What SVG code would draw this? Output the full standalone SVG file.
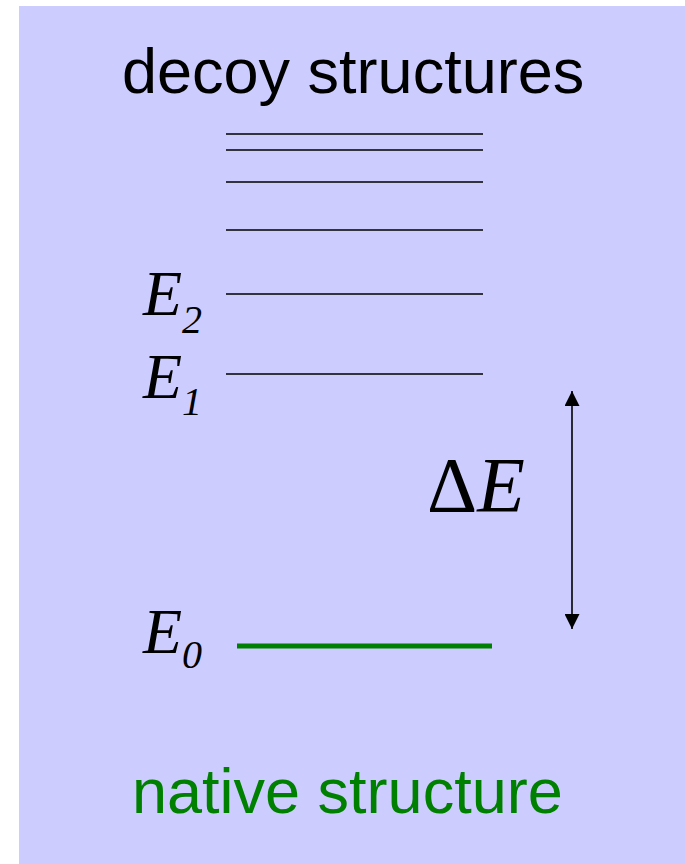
<svg xmlns="http://www.w3.org/2000/svg" width="685" height="864" viewBox="0 0 685 864">
<defs>
<style>
.lvl{stroke:#000;stroke-width:1.6;fill:none}
.lbl{font-family:"Liberation Serif",serif;font-style:italic;fill:#000}
.cap{font-family:"Liberation Sans",Arial,sans-serif;font-size:63px}
</style>
<marker id="ah" viewBox="0 0 10 10" refX="10" refY="5" markerWidth="15" markerHeight="15" markerUnits="userSpaceOnUse" orient="auto-start-reverse">
<path d="M0,0 L10,5 L0,10 z" fill="#000"/>
</marker>
</defs>
<rect x="19" y="6" width="666" height="858" fill="#CCCCFF"/>
<text class="cap" x="122" y="93" fill="#000">decoy structures</text>
<g id="decoys">
<line class="lvl" x1="226" y1="134" x2="483" y2="134"/>
<line class="lvl" x1="226" y1="150" x2="483" y2="150"/>
<line class="lvl" x1="226" y1="182" x2="483" y2="182"/>
<line class="lvl" x1="226" y1="230" x2="483" y2="230"/>
</g>
<g id="E2">
<line class="lvl" x1="226" y1="294" x2="483" y2="294"/>
<text class="lbl" x="143" y="315" font-size="64">E</text>
<text class="lbl" x="182" y="333" font-size="40">2</text>
</g>
<g id="E1">
<line class="lvl" x1="226" y1="374" x2="483" y2="374"/>
<text class="lbl" x="143" y="398" font-size="64">E</text>
<text class="lbl" x="182" y="415" font-size="40">1</text>
</g>
<g id="E0">
<line x1="237" y1="646" x2="492" y2="646" stroke="#008000" stroke-width="5"/>
<text class="lbl" x="143" y="653" font-size="64">E</text>
<text class="lbl" x="182" y="668" font-size="40">0</text>
</g>
<g id="connectors">
<line x1="572" y1="391" x2="572" y2="629" stroke="#000" stroke-width="1.6" marker-start="url(#ah)" marker-end="url(#ah)"/>
</g>
<text x="427" y="511" font-family="'Liberation Serif',serif" font-size="78" fill="#000">Δ<tspan font-style="italic">E</tspan></text>
<text class="cap" x="132" y="813" fill="#008000">native structure</text>
</svg>
